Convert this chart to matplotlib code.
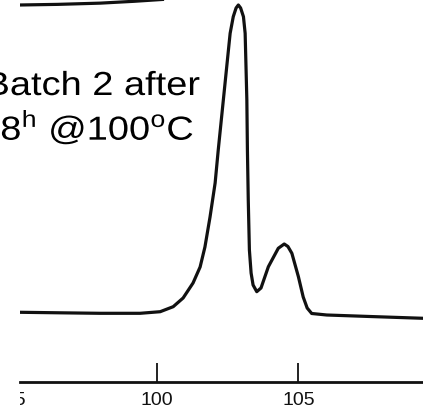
import matplotlib
matplotlib.use("Agg")
import matplotlib.pyplot as plt
from matplotlib.patheffects import AbstractPathEffect
from matplotlib.transforms import Affine2D

plt.rcParams["font.family"] = ["Liberation Sans", "DejaVu Sans"]
plt.rcParams["mathtext.fontset"] = "custom"
plt.rcParams["mathtext.rm"] = "Liberation Sans"

# Elution trace: retention (min) vs detector signal (relative, main peak = 100)
retention = [95.17, 96.59, 98.00, 99.41, 100.12, 100.58, 100.93, 101.28, 101.53,
             101.70, 101.88, 102.06, 102.17, 102.35, 102.47, 102.59, 102.70, 102.80,
             102.88, 102.96, 103.06, 103.12, 103.15, 103.18, 103.20, 103.23, 103.27,
             103.33, 103.40, 103.53, 103.68, 103.94, 104.29, 104.50, 104.63, 104.77,
             105.00, 105.17, 105.31, 105.47, 106.00, 107.53, 109.40]
signal = [0.23, 0.06, -0.10, -0.10, 0.42, 2.05, 4.87, 9.74, 14.94,
          21.43, 31.17, 42.21, 52.92, 69.16, 80.0, 90.8, 96.2, 99.03,
          100.0, 99.03, 96.2, 90.8, 80.0, 69.16, 52.92, 36.69, 20.45,
          12.99, 9.09, 6.92, 8.12, 15.03, 21.01, 22.40, 21.59, 19.38,
          11.79, 5.19, 1.62, -0.16, -0.65, -1.14, -1.72]

# Baseline of the neighbouring trace running along the top edge
upper_retention = [95.17, 96.5, 98.0, 99.2, 100.2]
upper_signal = [100.0, 100.2, 100.6, 101.2, 101.8]

tick_values = [95, 100, 105]
tick_labels = ["95", "100", "105"]

label_lines = ["Batch 2 after", r"48$^\mathregular{h}$ @100$^\mathregular{o}$C"]


class HorizontalStretch(AbstractPathEffect):
    """Widen glyph outlines horizontally about a fixed display x."""

    def __init__(self, factor, x_anchor):
        super().__init__()
        self.factor = factor
        self.x_anchor = x_anchor

    def draw_path(self, renderer, gc, tpath, affine, rgbFace=None):
        stretch = (Affine2D().translate(-self.x_anchor, 0)
                   .scale(self.factor, 1).translate(self.x_anchor, 0))
        renderer.draw_path(gc, tpath, affine + stretch, rgbFace)


W, H = 423, 409
fig = plt.figure(figsize=(W / 100, H / 100), dpi=100)
ax = fig.add_axes([20 / W, 0, (W - 20) / W, 1])

ink = "#111111"
ax.plot(retention, signal, color=ink, lw=2.3,
        solid_joinstyle="round", solid_capstyle="round")
ax.plot(upper_retention, upper_signal, color=ink, lw=2.3)

for side in ["left", "right", "top"]:
    ax.spines[side].set_visible(False)
ax.spines["bottom"].set_position(("data", -22.3))
ax.spines["bottom"].set_linewidth(2.0)
ax.spines["bottom"].set_color(ink)
ax.set_yticks([])
ax.set_xticks(tick_values)
ax.tick_params(axis="x", direction="in", length=13.7, width=1.3,
               color=ink, labelbottom=False)
ax.set_xlim(95.17, 109.40)
ax.set_ylim(-31.17, 101.62)

# Tick labels clipped to the plotting area, so the 95 shows only in part
for v, lab in zip(tick_values, tick_labels):
    ax.text(v, -29.87, lab, ha="center", va="baseline", fontsize=14,
            color=ink, clip_on=True)

for text, x_right, baseline in zip(label_lines, [200, 195], [95, 140]):
    fig.text(x_right / W, 1 - baseline / H, text, ha="right", va="baseline",
             fontsize=24, color="black",
             path_effects=[HorizontalStretch(1.14, x_right)])

fig.savefig("out.png", dpi=100, facecolor="white")
